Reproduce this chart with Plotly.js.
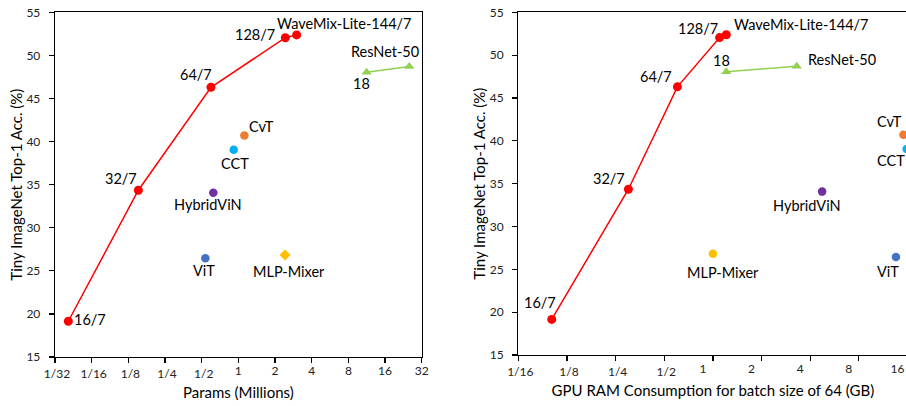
<!DOCTYPE html>
<html>
<head>
<meta charset="utf-8">
<script src="https://cdn.plot.ly/plotly-3.0.1.min.js"></script>
<style>
html,body{margin:0;padding:0;overflow:hidden;background:#fff;}
#chart{width:920px;height:406px;}
</style>
</head>
<body>
<div id="chart"></div>
<script>
// ---------- data ----------
const waveLabels = ['16/7', '32/7', '64/7', '128/7', 'WaveMix-Lite-144/7'];
const waveAcc = [19.15, 34.35, 46.3, 52.05, 52.38];
const waveParams = [0.0402, 0.151, 0.596, 2.43, 3.01];
const waveGpu = [0.1006, 0.300, 0.603, 1.10, 1.21];

const resnetLabels = ['18', 'ResNet-50'];
const resnetAcc = [48.05, 48.7];
const resnetParams = [11.3, 25.3];
const resnetGpu = [1.21, 3.30];

const otherLabels = ['CvT', 'CCT', 'HybridViN', 'ViT', 'MLP-Mixer'];
const otherAcc = [40.7, 39.05, 34.07, 26.45, 26.83];
const otherParams = [1.12, 0.916, 0.623, 0.536, 2.415];
const otherGpu = [15.1, 15.8, 4.74, 13.57, 1.0];

const leftTickVals = [1/32, 1/16, 1/8, 1/4, 1/2, 1, 2, 4, 8, 16, 32];
const leftTickText = ['1/32', '1/16', '1/8', '1/4', '1/2', '1', '2', '4', '8', '16', '32'];
const rightTickVals = [1/16, 1/8, 1/4, 1/2, 1, 2, 4, 8, 16];
const rightTickText = ['1/16', '1/8', '1/4', '1/2', '1', '2', '4', '8', '16'];
const yTickVals = [15, 20, 25, 30, 35, 40, 45, 50, 55];

// ---------- style ----------
const FONT = 'Lato, "Open Sans", sans-serif';
const W = 920, H = 406;
const otherColors = ['#ED7D31', '#00B0F0', '#7030A0', '#4472C4', '#FFC000'];
const leftOtherSymbols = ['circle', 'circle', 'circle', 'circle', 'diamond'];
const rightOtherSymbols = ['circle', 'circle', 'circle', 'circle', 'circle'];
// label offsets in px [dx, dy(down)]
const offL = {
  wave: [[21.7,-1.7],[-17.8,-12],[-14.7,-12.3],[-30.8,-3.4],[48.3,-11.4]],
  res: [[-5,11.6],[-24,-14.6]],
  oth: [[17.4,-9],[0.8,13.3],[-5.8,12.3],[-1,12],[4,16.7]]
};
const offR = {
  wave: [[-12,-16.7],[-19,-11],[-21.9,-10.7],[-22,-9],[75,-10.7]],
  res: [[-4.4,-11.7],[45.7,-7]],
  oth: [[-14,-13.6],[-16,12],[-14.7,14.3],[-8,15],[10.4,18.7]]
};

// the original uses a fraction number format: integer labels sit left of
// their tick, fraction labels slightly right. Split the labels over two
// overlaid axes so each group gets its own shift.
const isFrac = s => s.indexOf('/') >= 0;
const fracOnly = arr => arr.map(s => isFrac(s) ? s : '');
const intVals = (vals, txt) => vals.filter((v, i) => !isFrac(txt[i]));
const intText = txt => txt.filter(s => !isFrac(s));

function traces(xa, ya, wx, rx, ox, syms) {
  const t = [];
  t.push({x: wx, y: waveAcc, xaxis: xa, yaxis: ya, type: 'scatter', mode: 'lines+markers',
    line: {color: '#FF0000', width: 1.5}, marker: {color: '#FF0000', size: 9, symbol: 'circle'},
    hoverinfo: 'skip', showlegend: false});
  t.push({x: rx, y: resnetAcc, xaxis: xa, yaxis: ya, type: 'scatter', mode: 'lines+markers',
    line: {color: '#92D050', width: 1.5}, marker: {color: '#92D050', size: 9, symbol: 'triangle-up'},
    hoverinfo: 'skip', showlegend: false});
  for (let i = 0; i < otherLabels.length; i++) {
    t.push({x: [ox[i]], y: [otherAcc[i]], xaxis: xa, yaxis: ya, type: 'scatter', mode: 'markers',
      marker: {color: otherColors[i], size: 8.5, symbol: syms[i]},
      hoverinfo: 'skip', showlegend: false});
  }
  return t;
}

// invisible copy of a series so the overlaid label-only axis gets drawn
function carrier(xa, ya, xs) {
  return {x: xs, y: waveAcc, xaxis: xa, yaxis: ya, type: 'scatter', mode: 'markers',
    marker: {opacity: 0, size: 1}, hoverinfo: 'skip', showlegend: false};
}

function annots(xr, yr, wx, rx, ox, off) {
  const a = [];
  const mk = (x, y, txt, o) => ({x: Math.log10(x), y: y, xref: xr, yref: yr, text: txt, showarrow: false,
    xanchor: 'center', yanchor: 'middle', xshift: o[0], yshift: -o[1],
    font: {family: FONT, size: 14.5, color: '#000'}});
  waveLabels.forEach((s, i) => a.push(mk(wx[i], waveAcc[i], s, off.wave[i])));
  resnetLabels.forEach((s, i) => a.push(mk(rx[i], resnetAcc[i], s, off.res[i])));
  otherLabels.forEach((s, i) => a.push(mk(ox[i], otherAcc[i], s, off.oth[i])));
  return a;
}

const data = [].concat(
  traces('x', 'y', waveParams, resnetParams, otherParams, leftOtherSymbols),
  traces('x2', 'y2', waveGpu, resnetGpu, otherGpu, rightOtherSymbols),
  [carrier('x3', 'y', waveParams), carrier('x4', 'y2', waveGpu)]
);

const axisCommon = {
  showgrid: false, zeroline: false, showline: true, linecolor: '#000', linewidth: 1.3,
  mirror: true, ticks: 'outside', ticklen: 5, tickwidth: 1.2, tickcolor: '#000',
  tickfont: {family: FONT, size: 12, color: '#222'}, automargin: false,
  ticklabeloverflow: 'allow', tickangle: 0
};
const labelOnly = {
  showgrid: false, zeroline: false, showline: false, ticks: '', automargin: false,
  tickfont: {family: FONT, size: 12, color: '#222'}, ticklabeloverflow: 'allow', tickangle: 0,
  type: 'log', tickmode: 'array', side: 'bottom'
};
const titleFont = {family: FONT, size: 15, color: '#000'};
const leftDom = [55/W, 421.7/W], rightDom = [518.3/W, 907.5/W];
const leftRange = [Math.log10(1/32), Math.log10(32)], rightRange = [Math.log10(1/16), Math.log10(16)];

const layout = {
  width: W, height: H,
  margin: {l: 0, r: 0, t: 0, b: 0},
  paper_bgcolor: '#fff', plot_bgcolor: '#fff',
  showlegend: false,
  xaxis: Object.assign({}, axisCommon, {
    type: 'log', domain: leftDom, anchor: 'y', range: leftRange, ticklabelshift: 2,
    tickmode: 'array', tickvals: leftTickVals, ticktext: fracOnly(leftTickText),
    title: {text: 'Params (Millions)', font: titleFont, standoff: 7}
  }),
  xaxis3: Object.assign({}, labelOnly, {
    domain: leftDom, anchor: 'y', overlaying: 'x', range: leftRange, ticklabelshift: -8.5,
    ticklabelstandoff: 5,
    tickvals: intVals(leftTickVals, leftTickText), ticktext: intText(leftTickText)
  }),
  yaxis: Object.assign({}, axisCommon, {
    domain: [(H-357)/H, (H-12.3)/H], anchor: 'x', range: [15, 55],
    tickmode: 'array', tickvals: yTickVals, ticklabelstandoff: 6,
    title: {text: 'Tiny ImageNet Top-1 Acc. (%)', font: titleFont, standoff: 0}
  }),
  xaxis2: Object.assign({}, axisCommon, {
    type: 'log', domain: rightDom, anchor: 'y2', range: rightRange, ticklabelshift: 2,
    tickmode: 'array', tickvals: rightTickVals, ticktext: fracOnly(rightTickText),
    title: {text: 'GPU RAM Consumption for batch size of 64 (GB)', font: titleFont, standoff: 7}
  }),
  xaxis4: Object.assign({}, labelOnly, {
    domain: rightDom, anchor: 'y2', overlaying: 'x2', range: rightRange, ticklabelshift: -10,
    ticklabelstandoff: 5,
    tickvals: intVals(rightTickVals, rightTickText), ticktext: intText(rightTickText)
  }),
  yaxis2: Object.assign({}, axisCommon, {
    domain: [(H-355)/H, (H-12.3)/H], anchor: 'x2', range: [15, 55],
    tickmode: 'array', tickvals: yTickVals, ticklabelstandoff: 6,
    title: {text: 'Tiny ImageNet Top-1 Acc. (%)', font: titleFont, standoff: 0}
  }),
  annotations: [].concat(
    annots('x', 'y', waveParams, resnetParams, otherParams, offL),
    annots('x2', 'y2', waveGpu, resnetGpu, otherGpu, offR)
  )
};

Plotly.newPlot('chart', data, layout, {staticPlot: true, displayModeBar: false});
</script>
</body>
</html>
